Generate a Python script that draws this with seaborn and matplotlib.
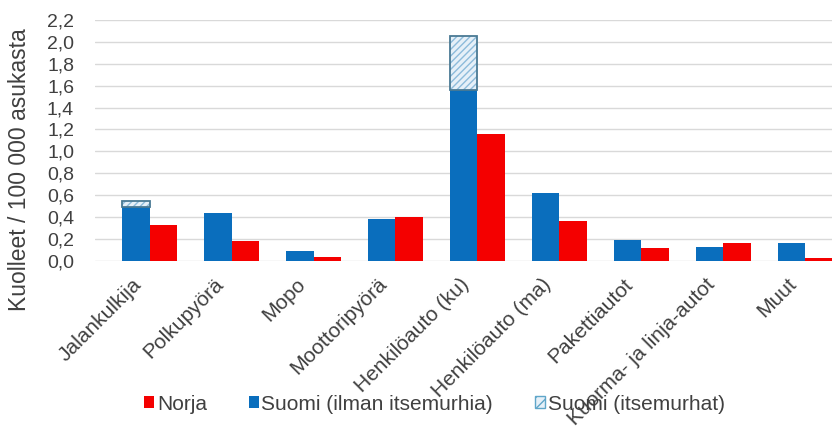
import matplotlib
matplotlib.use("Agg")
import matplotlib.pyplot as plt
import matplotlib.ticker as mticker
import matplotlib.transforms as mtransforms
from matplotlib.patches import Patch
import pandas as pd
import seaborn as sns

# --- Data ---
categories = ["Jalankulkija", "Polkupyörä", "Mopo", "Moottoripyörä",
              "Henkilöauto (ku)", "Henkilöauto (ma)", "Pakettiautot",
              "Kuorma- ja linja-autot", "Muut"]
suomi_ilman = [0.49, 0.44, 0.09, 0.38, 1.56, 0.62, 0.19, 0.13, 0.16]
suomi_itsemurhat = [0.06, 0.0, 0.0, 0.0, 0.49, 0.0, 0.0, 0.0, 0.0]
norja = [0.33, 0.18, 0.035, 0.40, 1.16, 0.36, 0.12, 0.16, 0.03]

BLUE = "#0A6EBD"
RED = "#F40000"
TXT = "#404040"

df = pd.DataFrame({
    "kategoria": categories * 2,
    "arvo": suomi_ilman + norja,
    "maa": ["Suomi"] * len(categories) + ["Norja"] * len(categories),
})

sns.set_style("white")
plt.rcParams["font.family"] = ["Liberation Sans", "DejaVu Sans"]

fig = plt.figure(figsize=(8.32, 4.34), dpi=100)
ax = fig.add_axes([0.114, 0.399, 0.886, 0.555])

sns.barplot(data=df, x="kategoria", y="arvo", hue="maa",
            hue_order=["Suomi", "Norja"], palette=[BLUE, RED],
            width=0.67, saturation=1, legend=False, ax=ax, linewidth=0)

# stacked suicide segments on top of the Finnish bars
suomi_patches = ax.patches[:len(categories)]
for p, base, extra in zip(suomi_patches, suomi_ilman, suomi_itsemurhat):
    if extra <= 0:
        continue
    x0, w = p.get_x(), p.get_width()
    ax.bar(x0, extra, width=w, bottom=base, align="edge",
           color="#E6F0F8", edgecolor="#8DBBDB", hatch="/////", linewidth=0)
    ax.bar(x0, extra, width=w, bottom=base, align="edge",
           fill=False, edgecolor="#4A7A94", linewidth=1.3)

ax.set_ylim(0, 2.2)
ax.set_xlim(-0.67, 8.33)
ax.yaxis.set_major_locator(mticker.MultipleLocator(0.2))
ax.yaxis.set_major_formatter(mticker.FuncFormatter(lambda v, pos: f"{v:.1f}".replace(".", ",")))
ax.grid(axis="y", color="#D9D9D9", linewidth=1)
ax.set_axisbelow(True)
for s in ax.spines.values():
    s.set_visible(False)

ax.tick_params(axis="y", length=0, labelsize=14, labelcolor=TXT, pad=15)
ax.tick_params(axis="x", length=0, labelsize=15, labelcolor=TXT, pad=10)
# shift the rotated labels a bit left, like the original
shift = mtransforms.ScaledTranslation(-0.18, 0, fig.dpi_scale_trans)
for lab in ax.get_xticklabels():
    lab.set_rotation(45)
    lab.set_ha("right")
    lab.set_rotation_mode("anchor")
    lab.set_transform(lab.get_transform() + shift)
ax.set_xlabel("")
ax.set_ylabel("Kuolleet / 100 000 asukasta", fontsize=16.5, color=TXT)
ax.yaxis.set_label_coords(-0.087, 0.378)

handles = [
    Patch(facecolor=RED, edgecolor="none", label="Norja"),
    Patch(facecolor=BLUE, edgecolor="none", label="Suomi (ilman itsemurhia)"),
    Patch(facecolor="#E6F0F8", edgecolor="#5FA6C9", hatch="///", label="Suomi (itsemurhat)"),
]
fig.legend(handles=handles, loc="center", bbox_to_anchor=(0.522, 0.069), ncol=3,
           frameon=False, fontsize=15, handlelength=0.5, handleheight=0.5,
           handletextpad=0.12, columnspacing=2.0, labelcolor=TXT)

fig.savefig("out.png", dpi=100)
